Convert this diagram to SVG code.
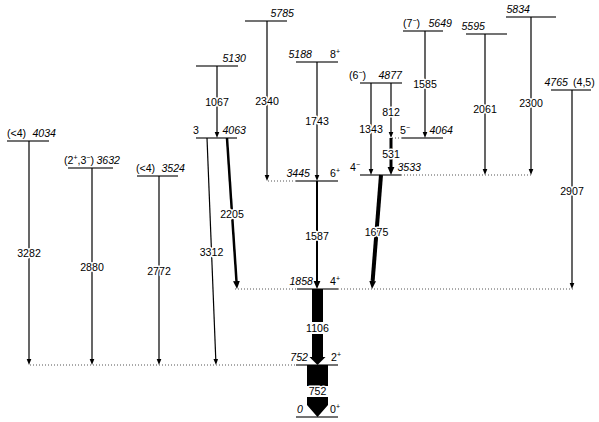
<svg xmlns="http://www.w3.org/2000/svg" width="599" height="422" viewBox="0 0 599 422">
<style>
text{font-family:"Liberation Sans",Arial,sans-serif;font-size:10.6px;fill:#000}
.e{font-style:italic}
.t{text-anchor:middle;stroke:#fff;stroke-width:3px;paint-order:stroke;stroke-linejoin:round}
.lv{stroke:#444;stroke-width:1.3;fill:none}
.dot{stroke:#555;stroke-width:1;stroke-dasharray:1 2;fill:none}
.tr{stroke:#000;stroke-width:1.2;fill:none;marker-end:url(#ah)}
.tk{stroke:#000;fill:none;marker-end:url(#ahb)}
.s{font-size:7px}
</style>
<defs>
<marker id="ah" viewBox="0 -3 6 6" refX="0" refY="0" markerWidth="6" markerHeight="6" markerUnits="userSpaceOnUse" orient="auto"><path d="M0,-2.3 L6,0 L0,2.3 z" fill="#000"/></marker>
<marker id="ahb" viewBox="0 -4 8 8" refX="0" refY="0" markerWidth="8" markerHeight="8" markerUnits="userSpaceOnUse" orient="auto"><path d="M0,-3.4 L8,0 L0,3.4 z" fill="#000"/></marker>
</defs>

<g id="dotted">
<line class="dot" x1="30" y1="365" x2="296" y2="365"/>
<line class="dot" x1="235" y1="289" x2="297" y2="289"/>
<line class="dot" x1="338" y1="289" x2="575" y2="289"/>
<line class="dot" x1="268" y1="181" x2="296" y2="181"/>
<line class="dot" x1="401" y1="175" x2="533" y2="175"/>
<line class="dot" x1="392" y1="138" x2="402" y2="138"/>
</g>

<g id="L4034"><line class="lv" x1="7" y1="141" x2="49" y2="141"/><text x="7" y="137">(&lt;4)</text><text class="e" x="56" y="137" text-anchor="end">4034</text></g>
<g id="L3632"><line class="lv" x1="68" y1="168" x2="113" y2="168"/><text x="64" y="164">(2<tspan class="s" dy="-4">+</tspan><tspan dy="4">,3</tspan><tspan class="s" dy="-4">−</tspan><tspan dy="4">)</tspan></text><text class="e" x="120" y="164" text-anchor="end">3632</text></g>
<g id="L3524"><line class="lv" x1="137" y1="176" x2="178" y2="176"/><text x="136" y="172">(&lt;4)</text><text class="e" x="185" y="172" text-anchor="end">3524</text></g>
<g id="L4063"><line class="lv" x1="196" y1="138" x2="237" y2="138"/><text x="193" y="134">3</text><text class="e" x="246" y="134" text-anchor="end">4063</text></g>
<g id="L5130"><line class="lv" x1="196" y1="66" x2="238" y2="66"/><text class="e" x="246" y="62" text-anchor="end">5130</text></g>
<g id="L5785"><line class="lv" x1="245" y1="21" x2="287" y2="21"/><text class="e" x="294" y="17" text-anchor="end">5785</text></g>
<g id="L5188"><line class="lv" x1="296" y1="62" x2="338" y2="62"/><text class="e" x="312" y="58" text-anchor="end">5188</text><text x="330" y="58">8<tspan class="s" dy="-4">+</tspan></text></g>
<g id="L3445"><line class="lv" x1="296" y1="181" x2="338" y2="181"/><text class="e" x="310" y="177" text-anchor="end">3445</text><text x="330" y="177">6<tspan class="s" dy="-4">+</tspan></text></g>
<g id="L1858"><line class="lv" x1="297" y1="289" x2="338" y2="289"/><text class="e" x="313" y="285" text-anchor="end">1858</text><text x="330" y="285">4<tspan class="s" dy="-4">+</tspan></text></g>
<g id="L752"><line class="lv" x1="296" y1="365" x2="338" y2="365"/><text class="e" x="308" y="361" text-anchor="end">752</text><text x="331" y="361">2<tspan class="s" dy="-4">+</tspan></text></g>
<g id="L0"><line class="lv" x1="296" y1="417" x2="338" y2="417"/><text class="e" x="303" y="413" text-anchor="end">0</text><text x="330" y="413">0<tspan class="s" dy="-4">+</tspan></text></g>
<g id="L4877"><line class="lv" x1="360" y1="83" x2="402" y2="83"/><text x="349" y="79">(6<tspan class="s" dy="-4">−</tspan><tspan dy="4">)</tspan></text><text class="e" x="402" y="79" text-anchor="end">4877</text></g>
<g id="L4064"><line class="lv" x1="402" y1="138" x2="443" y2="138"/><text x="400" y="134">5<tspan class="s" dy="-4">−</tspan></text><text class="e" x="453" y="134" text-anchor="end">4064</text></g>
<g id="L3533"><line class="lv" x1="360" y1="175" x2="401" y2="175"/><text x="350" y="171">4<tspan class="s" dy="-4">−</tspan></text><text class="e" x="421" y="171" text-anchor="end">3533</text></g>
<g id="L5649"><line class="lv" x1="403" y1="31" x2="443" y2="31"/><text x="403" y="27">(7<tspan class="s" dy="-4">−</tspan><tspan dy="4">)</tspan></text><text class="e" x="452" y="27" text-anchor="end">5649</text></g>
<g id="L5595"><line class="lv" x1="466" y1="34" x2="507" y2="34"/><text class="e" x="485" y="30" text-anchor="end">5595</text></g>
<g id="L5834"><line class="lv" x1="506" y1="17" x2="556" y2="17"/><text class="e" x="530" y="13" text-anchor="end">5834</text></g>
<g id="L4765"><line class="lv" x1="551" y1="90" x2="591" y2="90"/><text class="e" x="568" y="86" text-anchor="end">4765</text><text x="573" y="86">(4,5)</text></g>

<g id="connectors">
<line class="tr" x1="29" y1="141" x2="29" y2="359"/>
<line class="tr" x1="92" y1="168" x2="92" y2="359"/>
<line class="tr" x1="159" y1="176" x2="159" y2="359"/>
<line class="tr" x1="207" y1="138" x2="215.76" y2="359"/>
<line class="tr" x1="217" y1="66" x2="217" y2="132"/>
<line class="tr" x1="267" y1="21" x2="267" y2="175"/>
<line class="tr" x1="317" y1="62" x2="317" y2="175"/>
<line class="tr" x1="371" y1="83" x2="371" y2="169"/>
<line class="tr" x1="391" y1="83" x2="391" y2="132"/>
<line class="tr" x1="425" y1="31" x2="425" y2="132"/>
<line class="tr" x1="485" y1="34" x2="485" y2="169"/>
<line class="tr" x1="531" y1="17" x2="531" y2="169"/>
<line class="tr" x1="572" y1="90" x2="572" y2="283"/>
<line class="tk" stroke-width="2" x1="317" y1="181" x2="317" y2="281"/>
<line class="tk" stroke-width="2.5" x1="227" y1="138" x2="236.47" y2="281"/>
<line class="tk" stroke-width="3" x1="391" y1="138" x2="391" y2="167"/>
<line class="tk" stroke-width="4" x1="381" y1="175" x2="372.63" y2="281"/>
<path d="M312,289 H323 V322 H312 z M312,334 H323 V357 H325.5 L317.5,365 L309.5,357 H312 z" fill="#000"/>
<path d="M307,365 H328 V386 H307 z M307,397 H328 V405 L317.5,417 L307,405 z" fill="#000"/>
</g>

<g id="labels">
<text class="t" x="29" y="257">3282</text>
<text class="t" x="92" y="271">2880</text>
<text class="t" x="159" y="275">2772</text>
<text class="t" x="211.5" y="256">3312</text>
<text class="t" x="232" y="218">2205</text>
<text class="t" x="217" y="106">1067</text>
<text class="t" x="267" y="105">2340</text>
<text class="t" x="317" y="125">1743</text>
<text class="t" x="317" y="240">1587</text>
<text class="t" x="376.5" y="236">1675</text>
<text class="t" x="371" y="133">1343</text>
<text class="t" x="391" y="116">812</text>
<text class="t" x="391" y="158">531</text>
<text class="t" x="425" y="88">1585</text>
<text class="t" x="485" y="113">2061</text>
<text class="t" x="531" y="107">2300</text>
<text class="t" x="572" y="195">2907</text>
<text class="t" x="317.5" y="332">1106</text>
<text class="t" x="317.5" y="395">752</text>
</g>
</svg>
